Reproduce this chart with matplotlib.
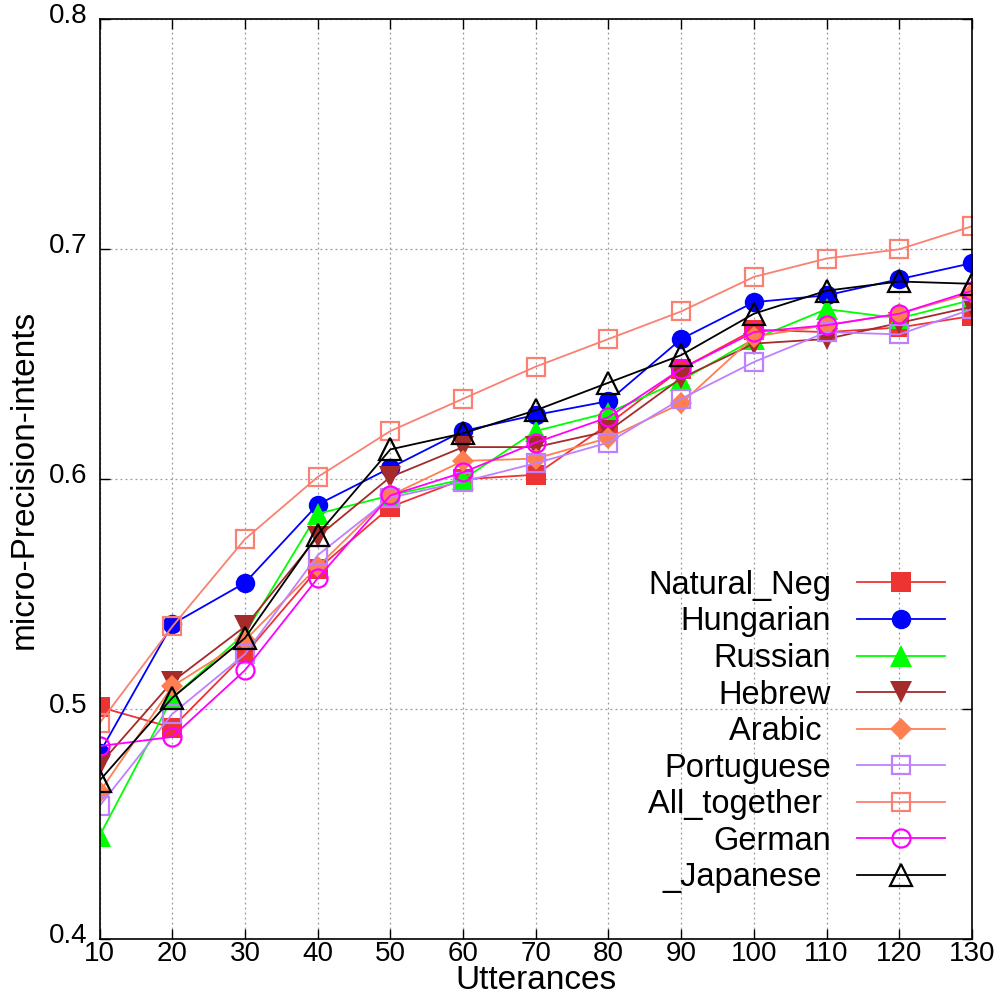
import numpy as np
import matplotlib
matplotlib.use("Agg")
import matplotlib.pyplot as plt
from matplotlib.transforms import ScaledTranslation

plt.rcParams['font.family'] = ['Liberation Sans', 'DejaVu Sans']

utterances = [10, 20, 30, 40, 50, 60, 70, 80, 90, 100, 110, 120, 130]

natural_neg = [0.501, 0.492, 0.524, 0.561, 0.588, 0.600, 0.602, 0.624, 0.648, 0.665, 0.664, 0.666, 0.671]
hungarian = [0.481, 0.537, 0.555, 0.589, 0.605, 0.621, 0.628, 0.634, 0.661, 0.677, 0.680, 0.687, 0.694]
russian = [0.445, 0.505, 0.533, 0.585, 0.593, 0.600, 0.621, 0.629, 0.643, 0.661, 0.674, 0.670, 0.678]
hebrew = [0.476, 0.512, 0.536, 0.575, 0.601, 0.614, 0.614, 0.621, 0.644, 0.659, 0.661, 0.668, 0.675]
arabic = [0.464, 0.510, 0.530, 0.562, 0.593, 0.608, 0.609, 0.618, 0.633, 0.662, 0.667, 0.672, 0.681]
portuguese = [0.458, 0.498, 0.524, 0.567, 0.592, 0.599, 0.607, 0.616, 0.635, 0.651, 0.664, 0.663, 0.674]
all_together = [0.494, 0.536, 0.574, 0.601, 0.621, 0.635, 0.649, 0.661, 0.673, 0.688, 0.696, 0.700, 0.710]
german = [0.484, 0.488, 0.517, 0.557, 0.593, 0.603, 0.616, 0.627, 0.648, 0.664, 0.667, 0.672, 0.682]
japanese = [0.469, 0.505, 0.531, 0.576, 0.613, 0.620, 0.630, 0.642, 0.654, 0.672, 0.682, 0.686, 0.685]

series = [
    ('Natural_Neg', natural_neg, '#ee3333', 's', True, 14),
    ('Hungarian', hungarian, '#0000ff', 'o', True, 14),
    ('Russian', russian, '#00ff00', '^', True, 16),
    ('Hebrew', hebrew, '#a52a2a', 'v', True, 16),
    ('Arabic ', arabic, '#ff7f50', 'D', True, 11),
    ('Portuguese', portuguese, '#bf80ff', 's', False, 13),
    ('All_together ', all_together, '#fa8072', 's', False, 13),
    ('German', german, '#ff00ff', 'o', False, 13),
    ('_Japanese ', japanese, '#000000', '^', False, 16),
]

fig = plt.figure(figsize=(10, 10), dpi=100)
ax = fig.add_axes([0.0996, 0.0607, 0.8724, 0.92])

handles = []
labels = []
for name, vals, col, mk, filled, ms in series:
    h, = ax.plot(utterances, vals, color=col, lw=1.3, marker=mk, markersize=ms,
                 markerfacecolor=col if filled else 'none', markeredgecolor=col,
                 markeredgewidth=0 if filled else 1.6)
    handles.append(h)
    labels.append(name)  # passed explicitly so "_Japanese" is kept

ax.set_xlim(10, 130)
ax.set_ylim(0.4, 0.8)
ax.set_xticks(utterances)
ax.set_yticks([0.4, 0.5, 0.6, 0.7, 0.8])
ax.set_yticklabels(['0.4', '0.5', '0.6', '0.7', '0.8'])
ax.tick_params(direction='in', length=7, width=1, top=True, right=True,
               labelsize=20)
ax.tick_params(axis='y', pad=9)
ax.tick_params(axis='x', pad=1)
# y labels sit a little above their ticks in the original
for lbl in ax.get_yticklabels():
    lbl.set_transform(lbl.get_transform() + ScaledTranslation(0, 0.06, fig.dpi_scale_trans))
ax.grid(True, color='#999999', linestyle=(0, (1.5, 2.5)), linewidth=0.9)
for s in ax.spines.values():
    s.set_linewidth(1.2)

ax.set_xlabel('Utterances', fontsize=24)
ax.xaxis.set_label_coords(0.5, -0.0275)
ax.set_ylabel('micro-Precision-intents', fontsize=24, labelpad=6)

leg = ax.legend(handles, labels, loc='lower right', bbox_to_anchor=(0.9695, 0.05),
                frameon=False, markerfirst=False, fontsize=23.5, handlelength=2.7,
                labelspacing=0.17, handletextpad=0.8, borderpad=0, borderaxespad=0)

fig.savefig('out.png', dpi=100)
